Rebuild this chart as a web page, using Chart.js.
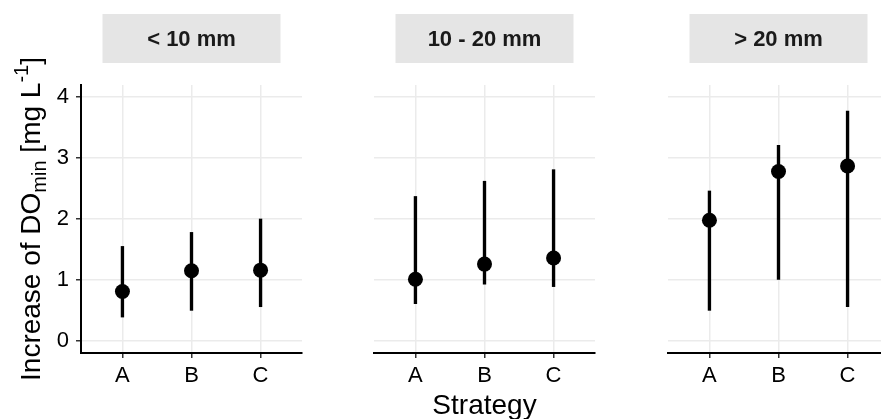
<!DOCTYPE html>
<html>
<head>
<meta charset="utf-8">
<script src="https://cdn.jsdelivr.net/npm/chart.js@4.4.0/dist/chart.umd.min.js"></script>
<style>
  html, body { margin: 0; padding: 0; background: #fff; }
  #wrap { position: relative; width: 881px; height: 419px; overflow: hidden; }
  .panel { position: absolute; top: 0; width: 310px; height: 419px; }
</style>
</head>
<body>
<div id="wrap">
  <div class="panel" style="left:0px"><canvas id="p1"></canvas></div>
  <div class="panel" style="left:293px"><canvas id="p2"></canvas></div>
  <div class="panel" style="left:587px"><canvas id="p3"></canvas></div>
</div>
<script>
var categories = ["A", "B", "C"];
var panelNames = ["< 10 mm", "10 - 20 mm", "> 20 mm"];

// < 10 mm
var meanSmall = [0.81, 1.15, 1.16];
var lowSmall = [0.39, 0.50, 0.56];
var highSmall = [1.55, 1.78, 2.00];
// 10 - 20 mm
var meanMid = [1.01, 1.26, 1.36];
var lowMid = [0.61, 0.93, 0.89];
var highMid = [2.37, 2.62, 2.81];
// > 20 mm
var meanLarge = [1.98, 2.78, 2.87];
var lowLarge = [0.50, 1.01, 0.56];
var highLarge = [2.46, 3.21, 3.77];

var FONT = "'Liberation Sans', Arial, sans-serif";
Chart.defaults.font.family = FONT;
Chart.defaults.color = "#000";

// grey strip with the facet name above each panel
var stripPlugin = {
    id: "strip",
    beforeDraw: function (chart, args, opts) {
        var ctx = chart.ctx;
        var a = chart.chartArea;
        var cx = (a.left + a.right) / 2;
        ctx.save();
        ctx.fillStyle = "#e5e5e5";
        ctx.fillRect(cx - 89, 14, 178, 49);
        ctx.fillStyle = "#1a1a1a";
        ctx.font = "bold 22px " + FONT;
        ctx.textAlign = "center";
        ctx.textBaseline = "middle";
        ctx.fillText(opts.text, cx, 40);
        ctx.restore();
    }
};

// y title with subscript and superscript
var yTitlePlugin = {
    id: "ytitle",
    afterDraw: function (chart, args, opts) {
        if (!opts.show) return;
        var ctx = chart.ctx;
        var a = chart.chartArea;
        var parts = [
            { t: "Increase of DO", size: 28, dy: 0 },
            { t: "min", size: 20, dy: 6 },
            { t: " [mg L", size: 28, dy: 0 },
            { t: "-1", size: 20, dy: -12 },
            { t: "]", size: 28, dy: 0 }
        ];
        ctx.save();
        var total = 0;
        parts.forEach(function (p) {
            ctx.font = p.size + "px " + FONT;
            p.w = ctx.measureText(p.t).width;
            total += p.w;
        });
        ctx.translate(40, (a.top + a.bottom) / 2);
        ctx.rotate(-Math.PI / 2);
        ctx.fillStyle = "#000";
        ctx.textBaseline = "alphabetic";
        ctx.textAlign = "left";
        var x = -total / 2;
        parts.forEach(function (p) {
            ctx.font = p.size + "px " + FONT;
            ctx.fillText(p.t, x, p.dy);
            x += p.w;
        });
        ctx.restore();
    }
};

function makeChart(id, name, mean, low, high, first, showXTitle) {
    var points = mean.map(function (v, i) { return { x: i + 1, y: v }; });
    var bars = low.map(function (v, i) { return { x: i + 1, y: [v, high[i]] }; });
    return new Chart(document.getElementById(id), {
        type: "bar",
        data: {
            datasets: [
                {
                    type: "line",
                    data: points,
                    showLine: false,
                    pointRadius: 7.5,
                    pointBackgroundColor: "#000",
                    pointBorderWidth: 0,
                    order: 0
                },
                {
                    type: "bar",
                    data: bars,
                    backgroundColor: "#000",
                    barThickness: 2.7,
                    borderWidth: 0,
                    order: 1
                }
            ]
        },
        options: {
            responsive: true,
            maintainAspectRatio: false,
            animation: false,
            events: [],
            layout: { padding: { top: 85, right: 8, bottom: 0, left: 0 } },
            plugins: {
                legend: { display: false },
                tooltip: { enabled: false },
                strip: { text: name },
                ytitle: { show: first }
            },
            scales: {
                x: {
                    type: "linear",
                    min: 0.4,
                    max: 3.6,
                    offset: false,
                    afterFit: function (s) { s.height = 66; },
                    grid: { offset: false, color: "#ebebeb", lineWidth: 1.5, tickLength: 5, tickColor: "#333", tickWidth: 1.5 },
                    border: { display: true, color: "#000", width: 2 },
                    ticks: {
                        stepSize: 1,
                        includeBounds: false,
                        autoSkip: false,
                        maxRotation: 0,
                        padding: 5,
                        color: "#000",
                        font: { size: 22 },
                        callback: function (v) { return categories[v - 1] || ""; }
                    },
                    title: {
                        display: showXTitle,
                        text: "Strategy",
                        color: "#000",
                        font: { size: 28 },
                        padding: { top: 0, bottom: -4 }
                    }
                },
                y: {
                    min: -0.2,
                    max: 4.2,
                    afterFit: function (s) { s.width = 81; },
                    grid: { color: "#ebebeb", lineWidth: 1.5, drawTicks: first, tickLength: 5, tickColor: "#333", tickWidth: 1.5 },
                    border: { display: first, color: "#000", width: 2 },
                    ticks: {
                        display: first,
                        stepSize: 1,
                        includeBounds: false,
                        padding: 7,
                        color: "#000",
                        font: { size: 22 }
                    }
                }
            }
        },
        plugins: [stripPlugin, yTitlePlugin]
    });
}

makeChart("p1", panelNames[0], meanSmall, lowSmall, highSmall, true, false);
makeChart("p2", panelNames[1], meanMid, lowMid, highMid, false, true);
makeChart("p3", panelNames[2], meanLarge, lowLarge, highLarge, false, false);
</script>
</body>
</html>
